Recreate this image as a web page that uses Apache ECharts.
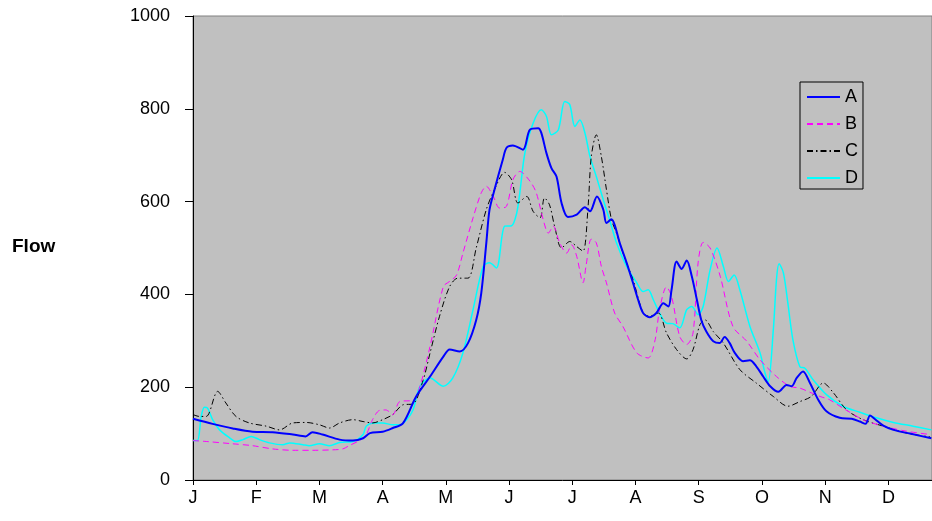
<!DOCTYPE html>
<html>
<head>
<meta charset="utf-8">
<script src="https://cdn.jsdelivr.net/npm/echarts@6/dist/echarts.min.js"></script>
<style>
html,body{margin:0;padding:0;background:#fff;}
#chart{width:932px;height:521px;}
</style>
</head>
<body>
<div id="chart"></div>
<script>
// x = months since start of January (tick per month), y = flow
const monthLabels = ['J','F','M','A','M','J','J','A','S','O','N','D'];
const yTicks = [0, 200, 400, 600, 800, 1000];
const seriesNames = ['A','B','C','D'];

const seriesA = [
[0.00,132],[0.31,121],[0.63,111],[0.94,104],[1.26,103],[1.58,98],[1.78,94],[1.89,103],[2.05,98],[2.32,87],[2.53,85],[2.69,90],[2.80,101],[3.00,104],[3.16,112],[3.32,122],[3.53,180],[3.75,223],[3.96,266],[4.06,281],[4.22,277],[4.35,295],[4.48,345],[4.56,403],[4.64,511],[4.69,582],[4.77,626],[4.90,690],[4.96,716],[5.06,721],[5.22,712],[5.33,755],[5.46,758],[5.51,748],[5.59,705],[5.67,672],[5.75,654],[5.83,597],[5.93,567],[6.07,572],[6.20,588],[6.28,579],[6.39,611],[6.49,583],[6.54,554],[6.62,562],[6.67,550],[6.75,511],[6.86,468],[6.96,425],[7.04,389],[7.12,360],[7.22,351],[7.33,360],[7.44,381],[7.52,374],[7.57,410],[7.65,471],[7.73,455],[7.81,473],[7.89,439],[7.97,389],[8.04,345],[8.12,320],[8.23,299],[8.33,295],[8.41,308],[8.49,295],[8.57,274],[8.70,256],[8.81,258],[8.91,245],[9.02,223],[9.13,202],[9.26,190],[9.39,205],[9.47,202],[9.55,220],[9.65,234],[9.76,209],[9.89,173],[10.02,148],[10.23,134],[10.42,132],[10.55,126],[10.64,121],[10.71,139],[10.79,131],[10.92,117],[11.08,108],[11.34,100],[11.68,90]
];
const seriesB = [
[0.00,85],[0.21,83],[0.63,78],[0.94,74],[1.26,67],[1.58,64],[1.89,64],[2.21,65],[2.37,67],[2.47,74],[2.63,85],[2.74,98],[2.84,130],[2.95,150],[3.05,151],[3.16,141],[3.27,169],[3.48,172],[3.59,202],[3.75,288],[3.96,417],[4.06,428],[4.17,442],[4.27,489],[4.43,565],[4.56,619],[4.64,633],[4.75,611],[4.85,586],[4.96,590],[5.06,647],[5.17,665],[5.33,644],[5.43,619],[5.54,561],[5.62,532],[5.70,547],[5.80,511],[5.91,489],[5.99,507],[6.07,482],[6.17,425],[6.22,464],[6.30,519],[6.38,511],[6.46,460],[6.54,425],[6.67,360],[6.80,331],[7.02,274],[7.20,263],[7.31,302],[7.38,367],[7.49,416],[7.57,396],[7.70,309],[7.81,292],[7.91,317],[7.99,468],[8.07,512],[8.18,500],[8.34,439],[8.54,331],[8.76,299],[8.97,259],[9.23,223],[9.44,202],[9.60,198],[9.76,189],[9.92,180],[10.07,173],[10.28,155],[10.60,130],[10.92,116],[11.29,105],[11.66,98]
];
const seriesC = [
[0.00,141],[0.10,137],[0.21,137],[0.39,191],[0.52,166],[0.68,137],[0.89,123],[1.16,116],[1.37,108],[1.58,123],[1.79,124],[2.00,119],[2.16,112],[2.32,123],[2.53,130],[2.69,126],[2.84,123],[3.00,130],[3.16,141],[3.32,162],[3.48,164],[3.64,215],[3.75,274],[3.90,353],[4.06,417],[4.19,435],[4.35,435],[4.48,500],[4.64,583],[4.77,626],[4.93,663],[5.04,647],[5.14,597],[5.28,611],[5.38,579],[5.49,565],[5.56,608],[5.64,593],[5.72,547],[5.83,500],[5.96,514],[6.07,503],[6.17,493],[6.25,590],[6.30,697],[6.38,744],[6.46,697],[6.54,626],[6.62,561],[6.70,532],[6.83,478],[6.96,432],[7.12,360],[7.22,353],[7.36,360],[7.49,317],[7.65,281],[7.81,261],[7.91,281],[8.02,335],[8.10,345],[8.23,320],[8.39,295],[8.65,238],[8.91,209],[9.18,180],[9.41,159],[9.60,169],[9.78,180],[9.97,209],[10.13,188],[10.34,151],[10.60,130],[10.92,116],[11.29,101],[11.66,93]
];
const seriesD = [
[0.00,85],[0.07,85],[0.13,137],[0.18,157],[0.23,155],[0.31,130],[0.42,108],[0.58,91],[0.68,83],[0.79,87],[0.92,94],[1.05,87],[1.21,80],[1.42,76],[1.53,80],[1.74,76],[1.84,74],[2.00,78],[2.16,74],[2.32,81],[2.53,83],[2.69,98],[2.74,116],[2.87,123],[3.00,123],[3.16,119],[3.27,119],[3.38,130],[3.48,151],[3.59,202],[3.75,220],[3.96,202],[4.11,220],[4.27,274],[4.43,367],[4.59,460],[4.69,468],[4.80,457],[4.93,547],[5.04,548],[5.12,575],[5.17,619],[5.25,705],[5.38,769],[5.51,798],[5.59,784],[5.67,744],[5.78,755],[5.88,816],[5.96,809],[6.04,762],[6.12,776],[6.20,748],[6.28,697],[6.38,654],[6.49,604],[6.59,561],[6.70,511],[6.86,460],[7.02,425],[7.12,406],[7.20,410],[7.28,389],[7.38,360],[7.49,338],[7.59,337],[7.70,328],[7.81,367],[7.89,374],[7.99,356],[8.07,374],[8.18,453],[8.29,500],[8.39,460],[8.47,428],[8.56,442],[8.65,410],[8.81,331],[8.97,274],[9.05,230],[9.10,212],[9.18,324],[9.23,432],[9.27,466],[9.34,446],[9.41,381],[9.49,302],[9.60,244],[9.68,241],[9.81,216],[10.02,184],[10.28,159],[10.55,146],[10.81,134],[11.08,124],[11.39,116],[11.68,108]
];

const FONT = '"Liberation Sans", Arial, sans-serif';
const chart = echarts.init(document.getElementById('chart'), null, {renderer: 'canvas'});

const styles = [
  {color: '#0000FF', width: 2, type: 'solid'},
  {color: '#FF00FF', width: 1, type: [6, 4]},
  {color: '#000000', width: 1, type: [6, 3, 1.5, 3]},
  {color: '#00FFFF', width: 1.5, type: 'solid'}
];
const datas = [seriesA, seriesB, seriesC, seriesD];

chart.setOption({
  animation: false,
  backgroundColor: '#ffffff',
  grid: {
    left: 193, top: 16, right: 0, bottom: 41,
    show: true, backgroundColor: '#C0C0C0', borderColor: '#808080', borderWidth: 1
  },
  graphic: [{
    type: 'text', left: 12, top: 237,
    style: {text: 'Flow', font: 'bold 19px ' + FONT, fill: '#000'}
  }],
  legend: {
    orient: 'vertical',
    left: 800, top: 82,
    padding: [6, 5, 2, 6],
    itemWidth: 33, itemHeight: 14, itemGap: 9,
    backgroundColor: '#C0C0C0',
    borderColor: '#000', borderWidth: 1,
    itemStyle: {opacity: 0},
    textStyle: {fontFamily: FONT, fontSize: 18, lineHeight: 18, color: '#000'},
    data: seriesNames
  },
  xAxis: {
    type: 'value', min: 0, max: 11.69, interval: 1,
    axisLine: {show: true, lineStyle: {color: '#000', width: 1}},
    axisTick: {show: true, length: 5, lineStyle: {color: '#000'}},
    axisLabel: {
      fontFamily: FONT, fontSize: 18, color: '#000', margin: 9,
      showMaxLabel: false,
      formatter: function (v) { return Number.isInteger(v) ? (monthLabels[v] || '') : ''; }
    },
    splitLine: {show: false}
  },
  yAxis: {
    type: 'value', min: yTicks[0], max: yTicks[yTicks.length-1], interval: 200,
    axisLine: {show: true, lineStyle: {color: '#000', width: 1}},
    axisTick: {show: true, length: 8, lineStyle: {color: '#000'}},
    axisLabel: {fontFamily: FONT, fontSize: 18, color: '#000', margin: 23,
      formatter: function (v) { return String(v); }},
    splitLine: {show: false}
  },
  series: seriesNames.map(function (n, i) {
    return {
      name: n, type: 'line', data: datas[i],
      symbol: 'none', smooth: 0.3,
      lineStyle: {color: styles[i].color, width: styles[i].width, type: styles[i].type},
      itemStyle: {color: styles[i].color},
      z: 10 - i
    };
  })
});
</script>
</body>
</html>
